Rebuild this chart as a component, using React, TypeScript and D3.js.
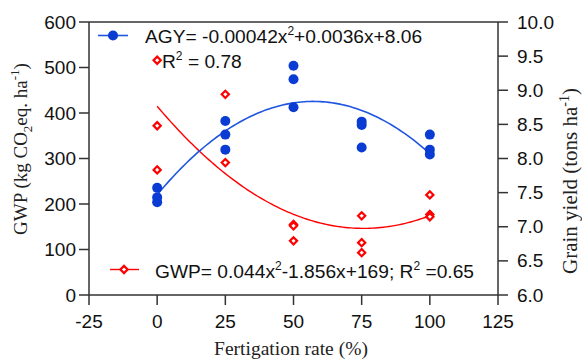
import React from "react";
import * as d3 from "d3";

const fertigationRates = [0, 25, 50, 75, 100];
const gwpValues = [
  [516, 372, 275],
  [441, 291],
  [155, 152, 119],
  [174, 115, 93],
  [220, 177, 172],
];
const yieldValues = [
  [7.57, 7.43, 7.36],
  [8.55, 8.35, 8.13],
  [9.36, 9.16, 8.75],
  [8.54, 8.49, 8.16],
  [8.35, 8.13, 8.06],
];
const xTicks = [-25, 0, 25, 50, 75, 100, 125];
const leftTicks = [0, 100, 200, 300, 400, 500, 600];
const rightTicks = [6.0, 6.5, 7.0, 7.5, 8.0, 8.5, 9.0, 9.5, 10.0];

const W = 582;
const H = 360;
const L = 89, R = 498, T = 22, B = 295;

const BLUE = "#0a3cd4";
const BLUE_LINE = "#1f55e0";
const RED = "#ff0000";
const AXIS = "#333333";
const SANS = "'Liberation Sans', Arial, sans-serif";
const SERIF = "'Liberation Serif', 'Times New Roman', serif";

function quadFit(pts: [number, number][]) {
  // least squares y = a x^2 + b x + c
  let s0 = 0, s1 = 0, s2 = 0, s3 = 0, s4 = 0, t0 = 0, t1 = 0, t2 = 0;
  for (const [x, y] of pts) {
    s0 += 1; s1 += x; s2 += x * x; s3 += x * x * x; s4 += x * x * x * x;
    t0 += y; t1 += x * y; t2 += x * x * y;
  }
  const M = [
    [s4, s3, s2, t2],
    [s3, s2, s1, t1],
    [s2, s1, s0, t0],
  ];
  for (let i = 0; i < 3; i++) {
    for (let k = i + 1; k < 3; k++) {
      const f = M[k][i] / M[i][i];
      for (let j = i; j < 4; j++) M[k][j] -= f * M[i][j];
    }
  }
  const sol = [0, 0, 0];
  for (let i = 2; i >= 0; i--) {
    let s = M[i][3];
    for (let j = i + 1; j < 3; j++) s -= M[i][j] * sol[j];
    sol[i] = s / M[i][i];
  }
  return (x: number) => sol[0] * x * x + sol[1] * x + sol[2];
}

export default function App() {
  const x = d3.scaleLinear().domain([-25, 125]).range([L, R]);
  const yL = d3.scaleLinear().domain([0, 600]).range([B, T]);
  const yR = d3.scaleLinear().domain([6, 10]).range([B, T]);

  const gwpPts: [number, number][] = [];
  gwpValues.forEach((vs, i) => vs.forEach((v) => gwpPts.push([fertigationRates[i], v])));
  const yPts: [number, number][] = [];
  yieldValues.forEach((vs, i) => vs.forEach((v) => yPts.push([fertigationRates[i], v])));

  const gwpFit = quadFit(gwpPts);
  const yFit = quadFit(yPts);
  const xs = d3.range(0, 100.01, 1);
  const lineL = d3.line<number>().x((d) => x(d)).y((d) => yL(gwpFit(d)));
  const lineR = d3.line<number>().x((d) => x(d)).y((d) => yR(yFit(d)));

  const diamond = (cx: number, cy: number, r = 3.6) =>
    `M${cx},${cy - r}L${cx + r},${cy}L${cx},${cy + r}L${cx - r},${cy}Z`;

  return (
    <svg width={W} height={H} style={{ position: "absolute", left: 0, top: 0, background: "#fff" }}>
      {/* frame */}
      <line x1={L} x2={R} y1={T} y2={T} stroke={AXIS} strokeWidth={1.5} />
      <line x1={L} x2={R} y1={B} y2={B} stroke={AXIS} strokeWidth={1.5} />
      <line x1={L} x2={L} y1={T} y2={B} stroke={AXIS} strokeWidth={1.5} />
      <line x1={R} x2={R} y1={T} y2={B} stroke={AXIS} strokeWidth={1.5} />

      {/* left ticks */}
      {leftTicks.map((t) => (
        <g key={"l" + t}>
          <line x1={L - 10} x2={L} y1={yL(t)} y2={yL(t)} stroke={AXIS} strokeWidth={1.5} />
          <text x={L - 13} y={yL(t) + 6.5} textAnchor="end" fontFamily={SANS} fontSize={19} fill="#111">
            {t}
          </text>
        </g>
      ))}
      {/* right ticks */}
      {rightTicks.map((t) => (
        <g key={"r" + t}>
          <line x1={R} x2={R + 10} y1={yR(t)} y2={yR(t)} stroke={AXIS} strokeWidth={1.5} />
          <text x={R + 19} y={yR(t) + 6.5} textAnchor="start" fontFamily={SANS} fontSize={19} fill="#111">
            {t.toFixed(1)}
          </text>
        </g>
      ))}
      {/* bottom ticks */}
      {xTicks.map((t) => (
        <g key={"x" + t}>
          <line x1={x(t)} x2={x(t)} y1={B} y2={B + 10} stroke={AXIS} strokeWidth={1.5} />
          <text x={x(t)} y={B + 33} textAnchor="middle" fontFamily={SANS} fontSize={19} fill="#111">
            {t}
          </text>
        </g>
      ))}

      {/* axis titles */}
      <text x={291} y={355} textAnchor="middle" fontFamily={SERIF} fontSize={19.5} fill="#222">
        Fertigation rate (%)
      </text>
      <text transform={`translate(27,149) rotate(-90)`} textAnchor="middle" fontFamily={SERIF} fontSize={19} fill="#222">
        GWP (kg CO<tspan fontSize={13} dy={5}>2</tspan>
        <tspan dy={-5}>eq. ha</tspan>
        <tspan fontSize={13} dy={-8}>-1</tspan>
        <tspan dy={8}>)</tspan>
      </text>
      <text transform={`translate(577,181) rotate(-90)`} textAnchor="middle" fontFamily={SERIF} fontSize={21} fill="#222">
        Grain yield (tons ha<tspan fontSize={14} dy={-8}>-1</tspan>
        <tspan dy={8}>)</tspan>
      </text>

      {/* fit curves */}
      <path d={lineL(xs) || ""} fill="none" stroke={RED} strokeWidth={1.4} />
      <path d={lineR(xs) || ""} fill="none" stroke={BLUE_LINE} strokeWidth={1.6} />

      {/* red points */}
      {gwpValues.map((vs, i) =>
        vs.map((v, j) => (
          <path key={`g${i}-${j}`} d={diamond(x(fertigationRates[i]), yL(v))} fill="#fff" stroke={RED} strokeWidth={2.2} />
        ))
      )}
      {/* blue points */}
      {yieldValues.map((vs, i) =>
        vs.map((v, j) => (
          <circle key={`y${i}-${j}`} cx={x(fertigationRates[i])} cy={yR(v)} r={5} fill={BLUE} />
        ))
      )}

      {/* legend 1 */}
      <line x1={98} x2={128} y1={35.5} y2={35.5} stroke={BLUE_LINE} strokeWidth={1.6} />
      <circle cx={113} cy={35.5} r={5} fill={BLUE} />
      <text x={145} y={43} fontFamily={SANS} fontSize={19.2} fill="#111">
        AGY= -0.00042x<tspan fontSize={12} dy={-8}>2</tspan>
        <tspan dy={8}>+0.0036x+8.06</tspan>
      </text>
      <text x={162} y={68} fontFamily={SANS} fontSize={19.2} fill="#111">
        R<tspan fontSize={12} dy={-8}>2</tspan>
        <tspan dy={8}> = 0.78</tspan>
      </text>

      {/* legend 2 */}
      <line x1={110} x2={139} y1={269.5} y2={269.5} stroke={RED} strokeWidth={1.4} />
      <path d={diamond(124, 269.5)} fill="#fff" stroke={RED} strokeWidth={2.2} />
      <text x={155} y={277.5} fontFamily={SANS} fontSize={19.2} fill="#111">
        GWP= 0.044x<tspan fontSize={12} dy={-8}>2</tspan>
        <tspan dy={8}>-1.856x+169; R</tspan>
        <tspan fontSize={12} dy={-8}>2</tspan>
        <tspan dy={8}> =0.65</tspan>
      </text>
    </svg>
  );
}
